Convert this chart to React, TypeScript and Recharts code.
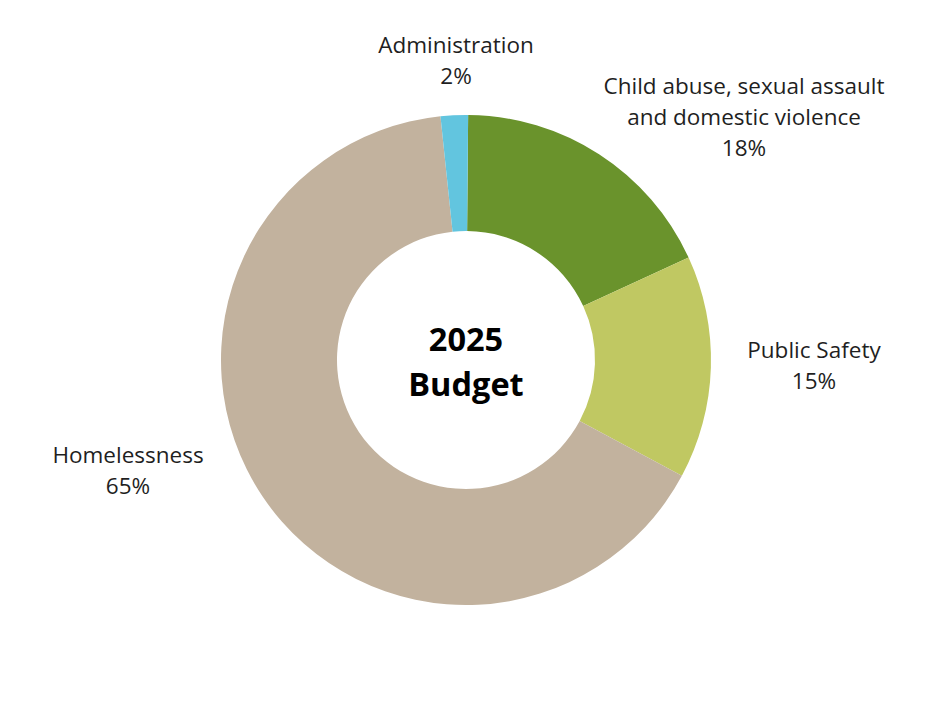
import { Cell, Pie, PieChart } from "recharts";

const categories = ["Child abuse, sexual assault and domestic violence", "Public Safety", "Homelessness", "Administration"];
const shares = [18, 14.7, 65.5, 1.8];
const shareLabels = ["18%", "15%", "65%", "2%"];
const colors = ["#6a932c", "#c0c862", "#c2b29e", "#62c5df"];
// label text lines per slice (name split over lines)
const nameLines = [
  ["Child abuse, sexual assault", "and domestic violence"],
  ["Public Safety"],
  ["Homelessness"],
  ["Administration"],
];
// label anchor offsets from the pie centre (centre of first line)
const labelOffsets = [
  [278, -275],
  [348, -11],
  [-338, 94],
  [-10, -316],
];

const data = categories.map((name, i) => ({ name, value: shares[i] }));

const font = "'Open Sans', sans-serif";

function renderLabel(props: any) {
  const { cx, cy, index } = props;
  const [dx, dy] = labelOffsets[index];
  const lines = [...nameLines[index], shareLabels[index]];
  return (
    <text x={cx + dx} y={cy + dy} textAnchor="middle" fill="#1f1f1f" fontFamily={font} fontSize={22.5} dominantBaseline="central">
      {lines.map((line, j) => (
        <tspan key={j} x={cx + dx} dy={j === 0 ? 0 : 31}>{line}</tspan>
      ))}
    </text>
  );
}

export default function App() {
  return (
    <div style={{ width: 924, height: 712, background: "#fff" }}>
      <PieChart width={924} height={712}>
        <Pie
          data={data}
          dataKey="value"
          nameKey="name"
          cx={453}
          cy={347}
          innerRadius={129}
          outerRadius={245}
          startAngle={89.5}
          endAngle={-270.5}
          stroke="none"
          label={renderLabel}
          labelLine={false}
          isAnimationActive={false}
        >
          {data.map((d, i) => <Cell key={d.name} fill={colors[i]} />)}
        </Pie>
        <text x={458} y={330} textAnchor="middle" dominantBaseline="central" fontFamily={font} fontWeight={700} fontSize={32.5} fill="#000">2025</text>
        <text x={458} y={375} textAnchor="middle" dominantBaseline="central" fontFamily={font} fontWeight={700} fontSize={32.5} fill="#000">Budget</text>
      </PieChart>
    </div>
  );
}
